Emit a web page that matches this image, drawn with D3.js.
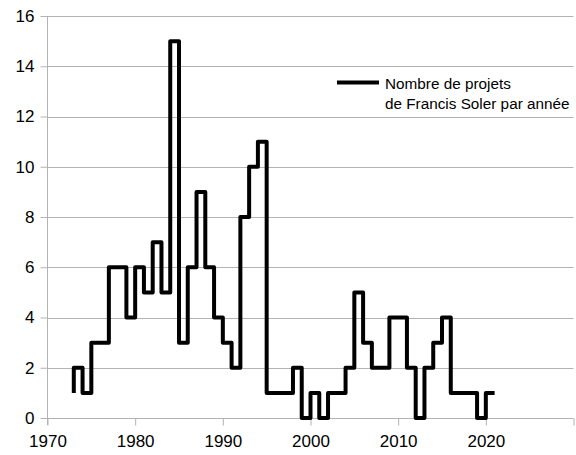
<!DOCTYPE html>
<html>
<head>
<meta charset="utf-8">
<script src="https://cdn.jsdelivr.net/npm/d3@7"></script>
<style>
  body { margin: 0; background: #fff; }
  text { font-family: "Liberation Sans", Arial, sans-serif; }
</style>
</head>
<body>
<div id="chart"></div>
<script>
// années et nombre de projets
var years = [1973,1974,1975,1976,1977,1978,1979,1980,1981,1982,1983,1984,1985,1986,1987,1988,1989,1990,
  1991,1992,1993,1994,1995,1996,1997,1998,1999,2000,2001,2002,2003,2004,2005,2006,2007,2008,2009,2010,
  2011,2012,2013,2014,2015,2016,2017,2018,2019,2020,2021];
var projets = [1,2,1,3,3,6,6,4,6,5,7,5,15,3,6,9,6,4,
  3,2,8,10,11,1,1,1,2,0,1,0,1,1,2,5,3,2,2,4,
  4,2,0,2,3,4,1,1,1,0,1];
var xTicks = [1970,1980,1990,2000,2010,2020,2030];
var xLabels = ["1970","1980","1990","2000","2010","2020",""];
var yTicks = [0,2,4,6,8,10,12,14,16];
var legendLines = ["Nombre de projets", "de Francis Soler par année"];

var W = 576, H = 455;
var svg = d3.select("#chart").append("svg").attr("width", W).attr("height", H);

var x = d3.scaleLinear().domain([1970, 2030]).range([47.5, 573.5]);
var y = d3.scaleLinear().domain([0, 16]).range([418, 16]);

var grid = "#b3b3b3";

// grille horizontale
svg.selectAll("line.grid")
  .data(yTicks)
  .enter()
  .append("line")
    .attr("class", "grid")
    .attr("x1", x(1970)).attr("x2", x(2030))
    .attr("y1", function (d) { return Math.round(y(d)) + 0.5; })
    .attr("y2", function (d) { return Math.round(y(d)) + 0.5; })
    .style("stroke", grid).style("stroke-width", 1);

// axe y
var yAxis = svg.append("g")
  .attr("transform", "translate(" + x(1970) + ",0)")
  .call(d3.axisLeft(y).tickValues(yTicks).tickSize(7).tickPadding(6).tickFormat(d3.format("d")));
yAxis.select(".domain").attr("d", "M0," + y(16) + "V" + (y(0) + 7)).style("stroke", grid);
yAxis.selectAll(".tick line").style("stroke", grid);
yAxis.selectAll(".tick text").style("font-size", "17px").style("fill", "#000");

// axe x
var xAxis = svg.append("g")
  .attr("transform", "translate(0," + (Math.round(y(0)) + 0.5) + ")")
  .call(d3.axisBottom(x).tickValues(xTicks).tickSize(7).tickPadding(9)
    .tickFormat(function (d, i) { return xLabels[i]; }));
xAxis.select(".domain").remove();
xAxis.selectAll(".tick line").style("stroke", grid);
xAxis.selectAll(".tick text").style("font-size", "17px").style("fill", "#000");

// courbe en escalier
var data = years.map(function (d, i) { return { annee: d, n: projets[i] }; });
var line = d3.line()
  .x(function (d) { return x(d.annee); })
  .y(function (d) { return y(d.n); })
  .curve(d3.curveStepBefore);

svg.append("path")
  .datum(data)
  .attr("d", line)
  .style("fill", "none")
  .style("stroke", "#000")
  .style("stroke-width", 4)
  .style("stroke-linejoin", "round");

// légende
var leg = svg.append("g");
leg.append("line")
  .attr("x1", 337).attr("x2", 379).attr("y1", 82.5).attr("y2", 82.5)
  .style("stroke", "#000").style("stroke-width", 4);
leg.selectAll("text")
  .data(legendLines)
  .enter()
  .append("text")
    .attr("x", 385)
    .attr("y", function (d, i) { return 89 + i * 20; })
    .style("font-size", "15.3px")
    .style("fill", "#000")
    .text(function (d) { return d; });
</script>
</body>
</html>
